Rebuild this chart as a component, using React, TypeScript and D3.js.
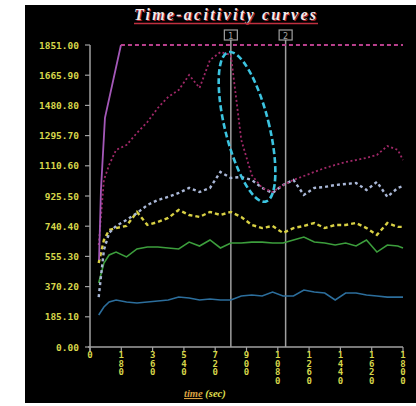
import React, { useEffect, useRef } from "react";
import * as d3 from "d3";

// sample times (sec)
const times = [50, 80, 110, 150, 210, 270, 330, 390, 450, 510, 570, 630, 690, 750, 810, 870, 930, 990, 1050, 1110, 1170, 1230, 1290, 1350, 1410, 1470, 1530, 1590, 1650, 1710, 1770, 1800];

const magenta = [625, 1024, 1116, 1208, 1238, 1312, 1379, 1465, 1533, 1575, 1667, 1588, 1759, 1808, 1790, 1269, 1054, 975, 950, 993, 1024, 1048, 1073, 1097, 1116, 1134, 1146, 1159, 1177, 1232, 1208, 1146];
const lavender = [306, 595, 699, 742, 779, 821, 870, 901, 920, 944, 975, 950, 975, 1073, 1036, 1042, 1024, 975, 944, 993, 1024, 932, 975, 981, 993, 999, 1005, 962, 1012, 920, 975, 987];
const yellow = [515, 656, 717, 729, 742, 828, 748, 766, 791, 840, 809, 797, 828, 809, 828, 797, 748, 729, 742, 699, 729, 742, 760, 729, 748, 748, 760, 729, 687, 760, 736, 736];
const green = [392, 515, 564, 582, 552, 601, 613, 613, 607, 601, 643, 619, 656, 607, 637, 637, 643, 643, 637, 637, 656, 674, 643, 637, 625, 637, 619, 656, 582, 625, 619, 607];
const blue = [196, 245, 276, 288, 276, 270, 276, 282, 288, 306, 300, 288, 294, 288, 288, 313, 319, 313, 337, 313, 313, 349, 337, 331, 288, 331, 331, 319, 313, 306, 306, 306];

// saturation curve
const maxTimes = [52, 63, 86, 178];
const maxValues = [533, 962, 1404, 1851];
const maxEnd = 1800;

const yTicks = [0, 185.1, 370.2, 555.3, 740.4, 925.5, 1110.6, 1295.7, 1480.8, 1665.9, 1851.0];
const xTicks = [0, 180, 360, 540, 720, 900, 1080, 1260, 1440, 1620, 1800];
const markers = [{ t: 810, label: "1" }, { t: 1125, label: "2" }];

// highlighted region (data units)
const ellipseCenter = { t: 903, v: 1349 };

const App = () => {
  const svgRef = useRef<SVGSVGElement>(null);

  useEffect(() => {
    const svg = d3.select(svgRef.current);
    svg.selectAll("*").remove();

    const x = d3.scaleLinear().domain([0, 1800]).range([90, 403]);
    const y = d3.scaleLinear().domain([0, 1851]).range([347, 45]);

    const gray = "#a0a0a0";
    const tickColor = "#d6d64a";

    svg.append("rect").attr("x", 25).attr("y", 5).attr("width", 391).attr("height", 398).attr("fill", "#000");

    // title
    const title = "Time-acitivity curves";
    svg.append("text").attr("x", 226).attr("y", 21).attr("text-anchor", "middle")
      .attr("font-family", "Liberation Serif").attr("font-style", "italic").attr("font-weight", "bold")
      .attr("font-size", 16).attr("fill", "#b02838").attr("textLength", 182).text(title);
    svg.append("text").attr("x", 225).attr("y", 20).attr("text-anchor", "middle")
      .attr("font-family", "Liberation Serif").attr("font-style", "italic").attr("font-weight", "bold")
      .attr("font-size", 16).attr("fill", "#f2eaea").attr("textLength", 182).text(title);
    svg.append("line").attr("x1", 134).attr("x2", 318).attr("y1", 23.5).attr("y2", 23.5)
      .attr("stroke", "#c03040").attr("stroke-width", 1.5);

    // y axis
    svg.append("line").attr("x1", x(0)).attr("x2", x(0)).attr("y1", y(1851)).attr("y2", y(0) + 5)
      .attr("stroke", gray).attr("stroke-width", 1.5);
    const yg = svg.append("g");
    yTicks.forEach((v) => {
      yg.append("line").attr("x1", x(0) - 5).attr("x2", x(0)).attr("y1", y(v)).attr("y2", y(v))
        .attr("stroke", gray).attr("stroke-width", 1.2);
      yg.append("text").attr("x", 79).attr("y", y(v) + 3.5).attr("text-anchor", "end")
        .attr("font-family", "DejaVu Sans Mono").attr("font-weight", "bold").attr("font-size", 9.5)
        .attr("fill", tickColor).text(v.toFixed(2));
    });

    // x axis
    svg.append("line").attr("x1", x(0) - 2).attr("x2", x(1800)).attr("y1", y(0)).attr("y2", y(0))
      .attr("stroke", gray).attr("stroke-width", 1.5);
    xTicks.forEach((t) => {
      svg.append("line").attr("x1", x(t)).attr("x2", x(t)).attr("y1", y(0)).attr("y2", y(0) + 5)
        .attr("stroke", gray).attr("stroke-width", 1.2);
      String(t).split("").forEach((ch, i) => {
        svg.append("text").attr("x", x(t)).attr("y", y(0) + 11 + i * 8.5).attr("text-anchor", "middle")
          .attr("font-family", "DejaVu Sans Mono").attr("font-weight", "bold").attr("font-size", 9)
          .attr("fill", tickColor).text(ch);
      });
    });

    const label = svg.append("text").attr("x", 184).attr("y", 397)
      .attr("font-family", "Liberation Serif").attr("font-style", "italic").attr("font-weight", "bold")
      .attr("font-size", 10.5);
    label.append("tspan").attr("fill", "#d8a040").attr("text-decoration", "underline").text("time");
    label.append("tspan").attr("fill", "#e0e050").text(" (sec)");

    // markers
    markers.forEach((m) => {
      svg.append("line").attr("x1", x(m.t)).attr("x2", x(m.t)).attr("y1", 40).attr("y2", y(0))
        .attr("stroke", gray).attr("stroke-width", 1.5);
      svg.append("rect").attr("x", x(m.t) - 6.5).attr("y", 30).attr("width", 13).attr("height", 10)
        .attr("fill", "none").attr("stroke", gray).attr("stroke-width", 1.2);
      svg.append("text").attr("x", x(m.t)).attr("y", 38.5).attr("text-anchor", "middle")
        .attr("font-family", "DejaVu Sans").attr("font-size", 8).attr("fill", gray).text(m.label);
    });

    const line = d3.line<number>().x((_, i) => x(times[i])).y((d) => y(d));

    const series = [
      { values: blue, color: "#2c6e9c", width: 1.6, dash: null },
      { values: green, color: "#3c9e3c", width: 1.6, dash: null },
      { values: yellow, color: "#d8d044", width: 2.4, dash: "4,3" },
      { values: lavender, color: "#aab8d8", width: 2.4, dash: "3,3" },
      { values: magenta, color: "#a02868", width: 1.8, dash: "2,2.5" },
    ];
    series.forEach((s) => {
      svg.append("path").datum(s.values).attr("d", line).attr("fill", "none")
        .attr("stroke", s.color).attr("stroke-width", s.width)
        .attr("stroke-dasharray", s.dash);
    });

    // saturation curve
    const maxLine = d3.line<number>().x((_, i) => x(maxTimes[i])).y((d) => y(d));
    svg.append("path").datum(maxValues).attr("d", maxLine).attr("fill", "none")
      .attr("stroke", "#a458b8").attr("stroke-width", 1.8);
    svg.append("line").attr("x1", x(maxTimes[maxTimes.length - 1])).attr("x2", x(maxEnd))
      .attr("y1", y(1851)).attr("y2", y(1851))
      .attr("stroke", "#b8408c").attr("stroke-width", 1.8).attr("stroke-dasharray", "4,3");

    // highlight ellipse
    svg.append("ellipse").attr("cx", 0).attr("cy", 0).attr("rx", 22).attr("ry", 77)
      .attr("transform", `translate(${x(ellipseCenter.t)},${y(ellipseCenter.v)}) rotate(-14)`)
      .attr("fill", "none").attr("stroke", "#3cc4e0").attr("stroke-width", 2.6)
      .attr("stroke-dasharray", "6,3");
  }, []);

  return (
    <svg ref={svgRef} width={416} height={406}
      style={{ position: "absolute", left: 0, top: 0, background: "#fff" }} />
  );
};

export default App;
